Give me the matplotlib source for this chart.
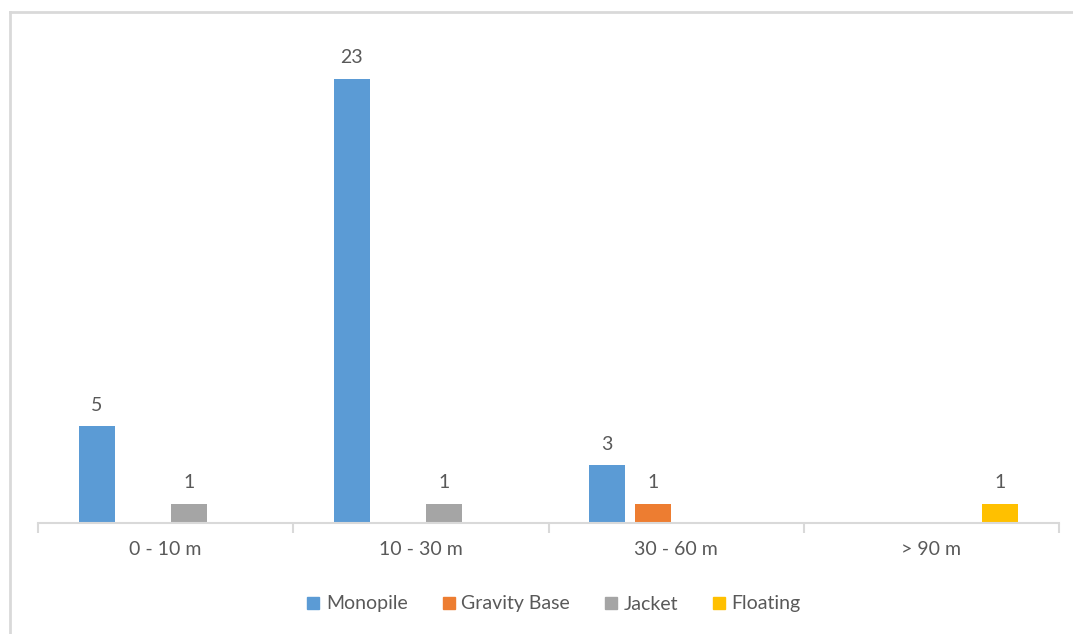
import matplotlib.pyplot as plt
from matplotlib.lines import Line2D
import numpy as np

categories = ['0 - 10 m', '10 - 30 m', '30 - 60 m', '> 90 m']
series_names = ['Monopile', 'Gravity Base', 'Jacket', 'Floating']
monopile = [5, 23, 3, 0]
gravity_base = [0, 0, 1, 0]
jacket = [1, 1, 0, 0]
floating = [0, 0, 0, 1]
colors = ['#5b9bd5', '#ed7d31', '#a5a5a5', '#ffc000']

text_col = '#595959'
grid_col = '#d9d9d9'
plt.rcParams['font.family'] = ['Lato', 'DejaVu Sans']

fig = plt.figure(figsize=(10.73, 6.34), dpi=100)
ax = fig.add_axes([38 / 1073, (634 - 523) / 634, (1059 - 38) / 1073, (523 - 40) / 634])

x = np.arange(len(categories))
bar_w = 36 / 255
step = 46 / 255
all_series = [monopile, gravity_base, jacket, floating]
for i, (name, vals) in enumerate(zip(series_names, all_series)):
    offs = (i - 1.5) * step
    bars = ax.bar(x + offs, vals, width=bar_w, color=colors[i], label=name)
    labels = [str(v) if v else '' for v in vals]
    ax.bar_label(bars, labels=labels, padding=9, fontsize=14, color=text_col)

ax.set_xlim(-0.5, len(categories) - 0.5)
ax.set_ylim(0, 25)
ax.set_yticks([])
for s in ['top', 'right', 'left']:
    ax.spines[s].set_visible(False)
ax.spines['bottom'].set_color(grid_col)
ax.spines['bottom'].set_linewidth(1.5)

# category boundaries as ticks, labels in the middle
ax.set_xticks(np.arange(len(categories) + 1) - 0.5)
ax.set_xticklabels([])
ax.tick_params(axis='x', which='major', length=7, width=1.5, color=grid_col)
ax.set_xticks(x, minor=True)
ax.set_xticklabels(categories, minor=True)
ax.tick_params(axis='x', which='minor', length=0, pad=13, labelsize=14, labelcolor=text_col)

handles = [Line2D([], [], marker='s', linestyle='none', markersize=8.5,
                  markerfacecolor=c, markeredgecolor=c) for c in colors]
fig.legend(handles, series_names, loc='center', bbox_to_anchor=(553 / 1073, 1 - 604 / 634),
           ncol=4, frameon=False, fontsize=14, labelcolor=text_col,
           handletextpad=0.25, columnspacing=1.7, handlelength=0.8)

# outer chart border
fig.add_artist(Line2D([10 / 1073, 10 / 1073], [0, 1 - 12 / 634], color=grid_col, lw=2))
fig.add_artist(Line2D([10 / 1073, 1], [1 - 12 / 634, 1 - 12 / 634], color=grid_col, lw=2))

fig.savefig('out.png', dpi=100, facecolor='white')
